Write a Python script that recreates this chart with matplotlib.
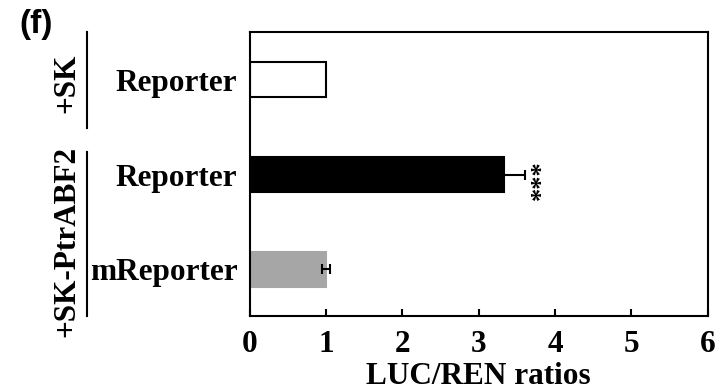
import matplotlib.pyplot as plt
from matplotlib.lines import Line2D

# data
labels = ["Reporter", "Reporter", "mReporter"]
values = [1.0, 3.33, 1.0]
errors = [0.0, 0.27, 0.05]
colors = ["white", "black", "#a6a6a6"]
edges = ["black", "black", "#a6a6a6"]
xticks = [0, 1, 2, 3, 4, 5, 6]

serif = "Liberation Serif"

fig = plt.figure(figsize=(7.16, 3.91), dpi=100)
ax = fig.add_axes([0.349, 0.192, 0.6394, 0.7256])

pos = list(range(len(values)))
ax.barh(pos, values, height=0.37, color=colors, edgecolor=edges, linewidth=1.5, zorder=2)
for p, v, e in zip(pos, values, errors):
    if e > 0:
        ax.errorbar(v, p, xerr=e, fmt="none", ecolor="black", elinewidth=1.5,
                    capsize=3.5, capthick=1.5, zorder=3)

ax.set_xlim(0, 6)
ax.set_ylim(2.49, -0.5)
ax.set_xticks(xticks)
ax.set_xticklabels([str(t) for t in xticks], fontfamily=serif, fontweight="bold", fontsize=22.5)
ax.set_yticks(pos)
ax.set_yticklabels(labels, fontfamily=serif, fontweight="bold", fontsize=22.5)
ax.tick_params(axis="x", direction="in", length=5, width=1.5, pad=10)
ax.tick_params(axis="y", length=0, pad=9)
for s in ax.spines.values():
    s.set_linewidth(1.5)

ax.set_xlabel("LUC/REN ratios", fontfamily=serif, fontweight="bold", fontsize=22.5, labelpad=2)

# significance marks
ax.text(values[1] + errors[1] + 0.22, 1.06, "***", rotation=90, ha="center", va="center",
        fontfamily=serif, fontweight="bold", fontsize=19)

# group brackets on the left
fig.add_artist(Line2D([0.121, 0.121], [0.918, 0.673], color="black", lw=1.5))
fig.add_artist(Line2D([0.121, 0.121], [0.611, 0.192], color="black", lw=1.5))
fig.text(0.0936, 0.788, "+SK", rotation=90, ha="center", va="center",
         fontfamily=serif, fontweight="bold", fontsize=22.5)
fig.text(0.0936, 0.382, "+SK-PtrABF2", rotation=90, ha="center", va="center",
         fontfamily=serif, fontweight="bold", fontsize=22.5)

fig.text(0.027, 0.978, "(f)", ha="left", va="top", fontfamily="Liberation Sans",
         fontweight="bold", fontsize=24)

fig.savefig("out.png", dpi=100)
